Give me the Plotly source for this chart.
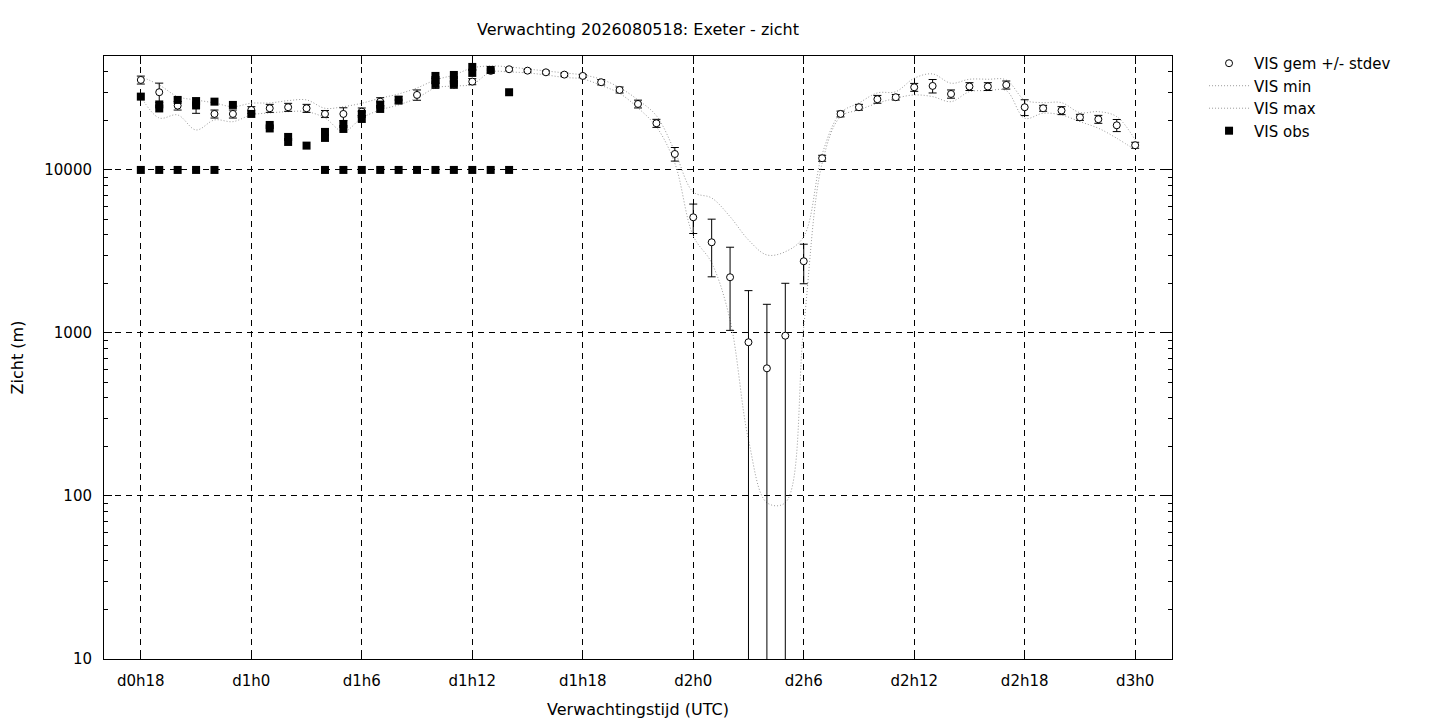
import math
import plotly.graph_objects as go

# forecast hours since d0h0
hours = list(range(18, 73))

vis_mean = [35650, 29980, 24800, 25000, 22060, 22060, 23340, 23900, 24250, 23900,
            22060, 22060, 22790, 26240, 26850, 28850, 34040, 33230, 34820, 40500,
            41480, 40650, 39720, 38440, 37730, 34530, 30960, 25400, 19340, 12530,
            5125, 3600, 2197, 877, 607, 962, 2754, 11800, 22060, 24250,
            27150, 27930, 32150, 32760, 29250, 32500, 32500, 33230, 24250, 23900,
            23150, 21030, 20470, 18790, 14180]

vis_sd = [2000, 4100, 1500, 2750, 1250, 1250, 1100, 1350, 1370, 1350,
          1100, 2000, 1200, 1500, 1500, 2100, 2400, 1550, 1500, 1100,
          900, 800, 800, 800, 800, 1300, 1300, 1400, 1100, 1200,
          1050, 1390, 1160, 941, 892, 1055, 750, 500, 900, 1000,
          1500, 1100, 1800, 3100, 1700, 1800, 1800, 1900, 2700, 1000,
          1300, 900, 1150, 1600, 600]

vis_min = [28170, 20840, 21750, 17590, 20260, 19780, 21750, 22370, 22790, 22790,
           20840, 17180, 20840, 23340, 25050, 27650, 31850, 32750, 33500, 39900,
           39900, 39370, 38260, 36940, 36150, 33000, 29500, 24000, 18400, 11000,
           3940, 2690, 1200, 221, 91, 91, 1093, 11000, 21230, 23340,
           25660, 27540, 28850, 28170, 26240, 30200, 30650, 30650, 20750, 22280,
           21750, 19780, 18030, 15650, 13270]

vis_max = [37360, 33230, 28170, 26880, 25760, 24440, 25660, 25760, 26620, 26880,
           23900, 24440, 25660, 27540, 29250, 31850, 35650, 38260, 42240, 43450,
           42840, 41640, 40480, 39370, 38260, 36000, 32000, 26880, 21500, 13000,
           7330, 6730, 5170, 3720, 3010, 3150, 3900, 12500, 22370, 25760,
           29680, 30200, 36520, 38810, 34040, 36000, 36000, 35650, 26880, 25870,
           25870, 22470, 22790, 21230, 15280]

# observations (several reports per hour)
obs_hours = [18, 18, 19, 19, 19, 20, 20, 21, 21, 21, 22, 22, 23, 24, 25, 25, 26, 26, 27,
             28, 28, 28, 29, 29, 29, 30, 30, 30, 31, 31, 31, 32, 32, 33,
             34, 34, 34, 34, 35, 35, 35, 35, 36, 36, 36, 37, 37, 38, 38]
obs_vis = [28170, 10000, 25220, 23840, 10000, 26880, 10000, 26320, 24870, 10000, 26240, 10000,
           25050, 22060, 18880, 17970, 15940, 14850, 14100,
           17110, 15720, 10000, 19150, 17840, 10000, 22060, 20550, 10000, 25160, 23670, 10000,
           26880, 10000, 10000,
           37730, 35650, 33700, 10000, 38260, 35650, 33700, 10000, 42840, 39370, 10000,
           41070, 10000, 29970, 10000]

tick_hours = [18, 24, 30, 36, 42, 48, 54, 60, 66, 72]
tick_labels = ['d0h18', 'd1h0', 'd1h6', 'd1h12', 'd1h18', 'd2h0', 'd2h6', 'd2h12', 'd2h18', 'd3h0']
y_ticks = [10, 100, 1000, 10000]

fig = go.Figure()

dotted = dict(color='#9a9a9a', width=1, dash='1px,2px', shape='spline')
fig.add_trace(go.Scatter(x=hours, y=vis_min, mode='lines', name='VIS min',
                         line=dotted, legendrank=2))
fig.add_trace(go.Scatter(x=hours, y=vis_max, mode='lines', name='VIS max',
                         line=dotted, legendrank=3))
fig.add_trace(go.Scatter(
    x=hours, y=vis_mean, mode='markers', name='VIS gem +/- stdev', legendrank=1,
    marker=dict(symbol='circle', size=7, color='white', line=dict(color='black', width=1)),
    error_y=dict(type='data', array=vis_sd, color='black', thickness=1, width=4),
))
fig.add_trace(go.Scatter(
    x=obs_hours, y=obs_vis, mode='markers', name='VIS obs', legendrank=4,
    marker=dict(symbol='square', size=8, color='black'),
))

axis_common = dict(
    showgrid=True, gridcolor='black', gridwidth=1, griddash='6px,5px',
    showline=True, linecolor='black', linewidth=1, mirror='ticks',
    ticks='inside', tickcolor='black', ticklen=8, zeroline=False,
    automargin=False,
)

fig.update_xaxes(
    range=[16, 74], tickvals=tick_hours, ticktext=tick_labels,
    ticklabelstandoff=8,
    title=dict(text='Verwachtingstijd (UTC)', standoff=14, font=dict(size=16)),
    **axis_common,
)
fig.update_yaxes(
    type='log', range=[1, math.log10(50000)],
    tickvals=y_ticks, ticktext=[str(v) for v in y_ticks],
    ticklabelstandoff=8,
    minor=dict(ticks='inside', ticklen=4, tickcolor='black', dtick='D1', showgrid=False),
    title=dict(text='Zicht (m)', standoff=18, font=dict(size=16)),
    **axis_common,
)

# page body has an 8px margin, so the figure is 8px smaller and margins shifted
fig.update_layout(
    width=1432, height=712,
    margin=dict(l=96, r=268, t=48, b=61),
    paper_bgcolor='white', plot_bgcolor='white',
    font=dict(family='DejaVu Sans', size=15, color='black'),
    title=dict(text='Verwachting 2026080518: Exeter - zicht', x=0.5, xref='paper',
               xanchor='center', y=1 - 21 / 712, yanchor='middle',
               font=dict(size=16)),
    legend=dict(x=1.03, xanchor='left', y=1.015, yanchor='top', bgcolor='rgba(0,0,0,0)',
                tracegroupgap=0, itemwidth=40, font=dict(size=15)),
    showlegend=True,
)

fig.write_html("out.html")
